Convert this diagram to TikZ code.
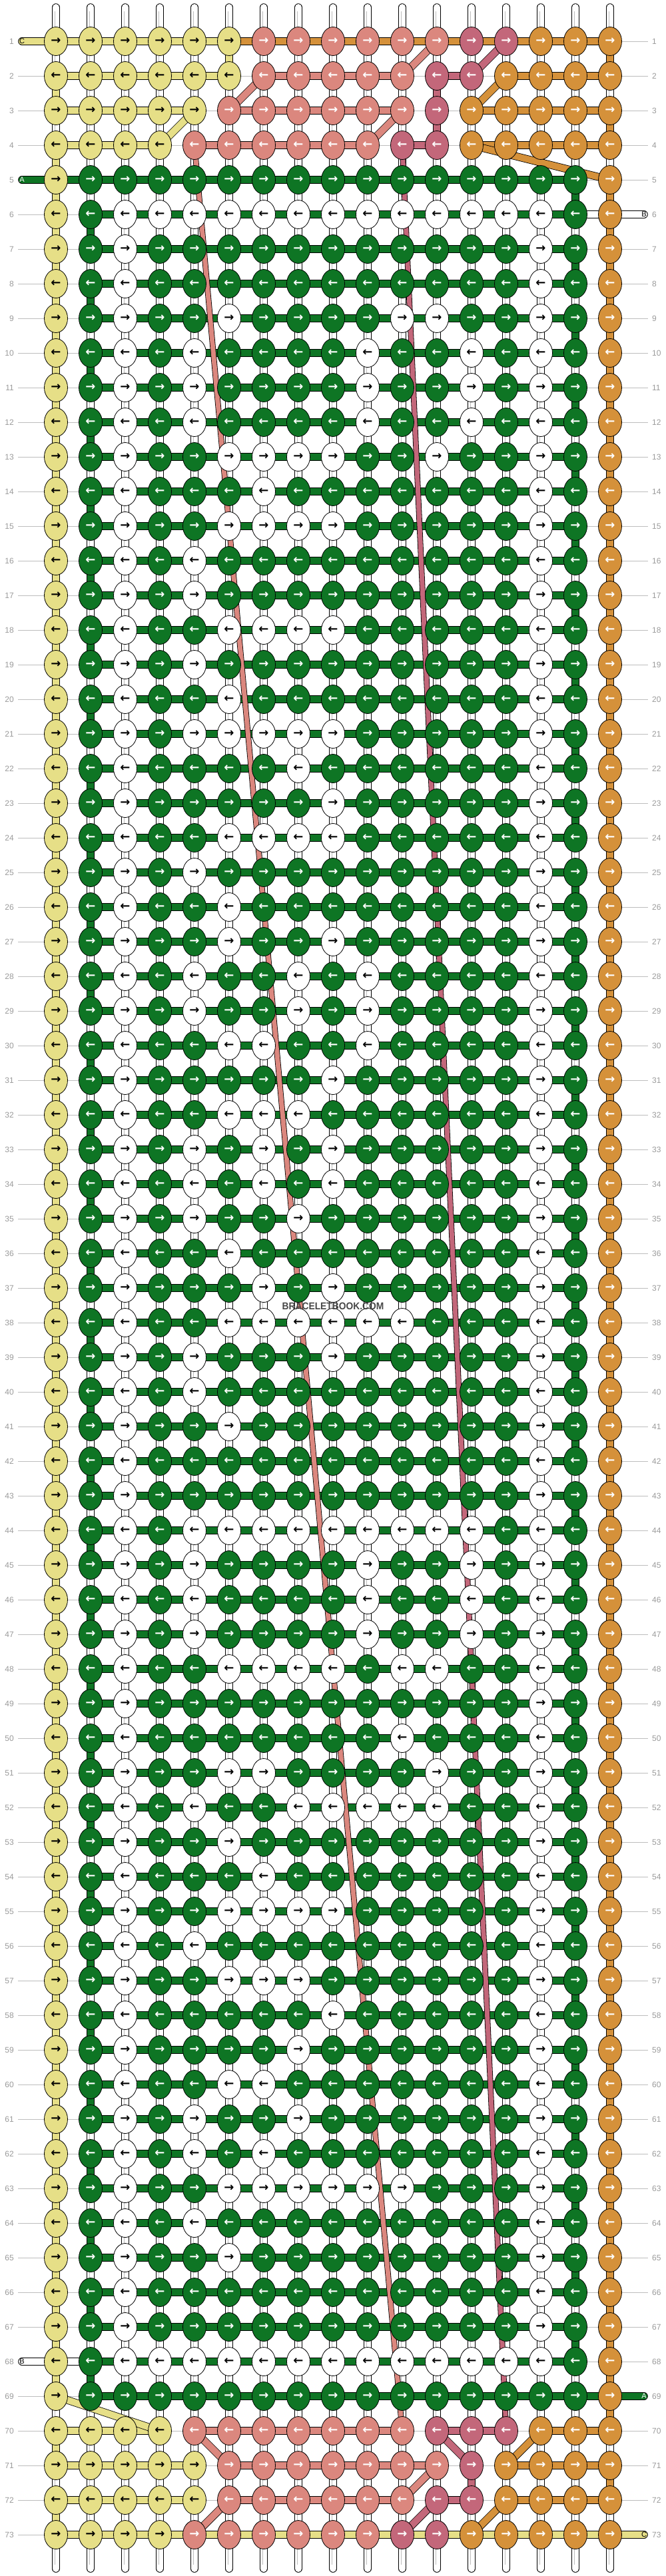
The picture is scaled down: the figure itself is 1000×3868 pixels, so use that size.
\documentclass[tikz,border=0pt]{standalone}
\usepackage{fontspec}
\setmainfont{Liberation Sans}
\newfontfamily\arrfont{DejaVu Sans}
\usetikzlibrary{shapes.geometric}

\definecolor{cy}{HTML}{E6DF87}
\definecolor{cs}{HTML}{DB877E}
\definecolor{cp}{HTML}{C3677A}
\definecolor{co}{HTML}{D5913A}
\definecolor{cg}{HTML}{0E7524}
\definecolor{guidegray}{HTML}{BDBDBD}
\definecolor{labgray}{HTML}{9A9A9A}

\pgfdeclarelayer{guide}
\pgfdeclarelayer{seg}
\pgfdeclarelayer{diag}
\pgfsetlayers{guide,seg,diag,main}

\begin{document}
\begin{tikzpicture}[
  x=1pt, y=-1pt,
  knot/.style={ellipse,draw=black,line width=0.8pt,minimum width=35pt,minimum height=43pt,inner sep=0pt,
    font=\arrfont\bfseries\fontsize{18}{18}\selectfont},
  ky/.style={knot,fill=cy,text=black},
  ks/.style={knot,fill=cs,text=white},
  kp/.style={knot,fill=cp,text=white},
  ko/.style={knot,fill=co,text=white},
  kg/.style={knot,fill=cg,text=white},
  kw/.style={knot,fill=white,text=black},
  band/.style={draw=black,line width=0.8pt,double=#1,double distance=10pt},
  thin band/.style={draw=black,line width=0.8pt,double=#1,double distance=7pt},
  gy/.style={band=cy}, gs/.style={band=cs}, gp/.style={band=cp}, go/.style={band=co}, gn/.style={},
  tail/.style={band=#1,line cap=round},
  tailtext/.style={font=\fontsize{11}{11}\selectfont,inner sep=0pt},
  tube/.style={draw=black,line width=0.8pt,double=white,double distance=10pt,line cap=round},
  tube core/.style={draw=guidegray,line width=0.5pt,double=white,double distance=3pt},
  guide/.style={draw=guidegray,line width=0.8pt},
  rowlab/.style={text=labgray,font=\fontsize{12}{12}\selectfont,inner sep=0pt}
]

\def\knotarrow#1{\ifodd#1\relax →\else ←\fi}

\useasboundingbox (0,0) rectangle (1000,3868);

% end rows
\foreach \rw/\cols in {
  1/{y,y,y,y,y,y,s,s,s,s,s,s,p,p,o,o,o},
  2/{y,y,y,y,y,y,s,s,s,s,s,p,p,o,o,o,o},
  3/{y,y,y,y,y,s,s,s,s,s,s,p,o,o,o,o,o},
  4/{y,y,y,y,s,s,s,s,s,s,p,p,o,o,o,o,o},
  70/{y,y,y,y,s,s,s,s,s,s,s,p,p,p,o,o,o},
  71/{y,y,y,y,y,s,s,s,s,s,s,s,p,o,o,o,o},
  72/{y,y,y,y,y,s,s,s,s,s,s,p,p,o,o,o,o},
  73/{y,y,y,y,s,s,s,s,s,s,p,p,o,o,o,o,o}}
  \foreach \cl [count=\ci] in \cols
    \node[k\cl] (k\rw-\ci) at (32+52*\ci, 10+52*\rw) {\knotarrow\rw};

% green field
\foreach \rw/\cols in {
  5/{g,g,g,g,g,g,g,g,g,g,g,g,g},
  6/{w,w,w,w,w,w,w,w,w,w,w,w,w},
  7/{w,g,g,g,g,g,g,g,g,g,g,g,w},
  8/{w,g,g,g,g,g,g,g,g,g,g,g,w},
  9/{w,g,g,w,g,g,g,g,w,w,g,g,w},
  10/{w,g,w,g,g,g,g,w,g,g,w,g,w},
  11/{w,g,w,g,g,g,g,w,g,g,w,g,w},
  12/{w,g,w,g,g,g,g,w,g,g,w,g,w},
  13/{w,g,g,w,w,w,w,g,g,w,g,g,w},
  14/{w,g,g,g,w,g,g,g,g,g,g,g,w},
  15/{w,g,g,w,w,w,w,g,g,g,g,g,w},
  16/{w,g,w,g,g,g,g,g,g,g,g,g,w},
  17/{w,g,w,g,g,g,g,g,g,g,g,g,w},
  18/{w,g,g,w,w,w,w,g,g,g,g,g,w},
  19/{w,g,w,g,g,g,g,g,g,g,g,g,w},
  20/{w,g,g,w,g,g,g,g,g,g,g,g,w},
  21/{w,g,w,w,w,w,w,g,g,g,g,g,w},
  22/{w,g,g,g,g,w,g,g,g,g,g,g,w},
  23/{w,g,g,g,g,g,w,g,g,g,g,g,w},
  24/{w,g,g,w,w,w,w,g,g,g,g,g,w},
  25/{w,g,w,g,g,g,g,g,g,g,g,g,w},
  26/{w,g,g,w,g,g,g,g,g,g,g,g,w},
  27/{w,g,g,w,g,g,w,g,g,g,g,g,w},
  28/{w,g,w,g,g,w,g,w,g,g,g,g,w},
  29/{w,g,w,g,g,w,g,w,g,g,g,g,w},
  30/{w,g,g,w,w,g,g,w,g,g,g,g,w},
  31/{w,g,g,g,g,g,w,g,g,g,g,g,w},
  32/{w,g,g,w,w,w,g,g,g,g,g,g,w},
  33/{w,g,w,g,w,g,w,g,g,g,g,g,w},
  34/{w,g,w,g,w,g,w,g,g,g,g,g,w},
  35/{w,g,w,g,g,w,g,g,g,g,g,g,w},
  36/{w,g,g,w,g,g,g,g,g,g,g,g,w},
  37/{w,g,g,g,w,g,w,g,g,g,g,g,w},
  38/{w,g,g,w,w,w,w,w,w,g,g,g,w},
  39/{w,g,w,g,g,g,w,g,g,g,g,g,w},
  40/{w,g,w,g,g,g,g,g,g,g,g,g,w},
  41/{w,g,g,w,g,g,g,g,g,g,g,g,w},
  42/{w,g,g,g,g,g,g,g,g,g,g,g,w},
  43/{w,g,g,g,g,g,g,g,g,g,g,g,w},
  44/{w,g,w,w,w,w,w,w,w,w,w,g,w},
  45/{w,g,w,g,g,g,g,w,g,g,w,g,w},
  46/{w,g,w,g,g,g,g,w,g,g,w,g,w},
  47/{w,g,w,g,g,g,g,w,g,g,w,g,w},
  48/{w,g,g,w,w,w,w,g,w,w,g,g,w},
  49/{w,g,g,g,g,g,g,g,g,g,g,g,w},
  50/{w,g,g,g,g,g,g,g,w,g,g,g,w},
  51/{w,g,g,w,w,g,g,g,g,w,g,g,w},
  52/{w,g,w,g,g,w,w,w,w,w,g,g,w},
  53/{w,g,g,w,g,g,g,g,g,g,g,g,w},
  54/{w,g,g,g,w,g,g,g,g,g,g,g,w},
  55/{w,g,g,w,w,w,w,g,g,g,g,g,w},
  56/{w,g,w,g,g,g,g,g,g,g,g,g,w},
  57/{w,g,g,w,w,w,g,g,g,g,g,g,w},
  58/{w,g,g,g,g,g,w,g,g,g,g,g,w},
  59/{w,g,g,g,g,w,g,g,g,g,g,g,w},
  60/{w,g,g,w,w,g,g,g,g,g,g,g,w},
  61/{w,g,w,g,g,w,g,g,g,g,g,g,w},
  62/{w,g,w,g,w,g,g,g,g,g,g,g,w},
  63/{w,g,g,w,w,w,w,w,w,g,g,g,w},
  64/{w,g,w,g,g,g,g,g,g,g,g,g,w},
  65/{w,g,g,w,g,g,g,g,g,g,g,g,w},
  66/{w,g,g,g,g,g,g,g,g,g,g,g,w},
  67/{w,g,g,g,g,g,g,g,g,g,g,g,w},
  68/{w,w,w,w,w,w,w,w,w,w,w,w,w},
  69/{g,g,g,g,g,g,g,g,g,g,g,g,g}} {
  \node[ky] (k\rw-1) at (84, 10+52*\rw) {\knotarrow\rw};
  \node[kg] (k\rw-2) at (136, 10+52*\rw) {\knotarrow\rw};
  \foreach \cl [count=\ci from 3] in \cols
    \node[k\cl] (k\rw-\ci) at (32+52*\ci, 10+52*\rw) {\knotarrow\rw};
  \node[kg] (k\rw-16) at (864, 10+52*\rw) {\knotarrow\rw};
  \node[ko] (k\rw-17) at (916, 10+52*\rw) {\knotarrow\rw};
}

% row numbers
\foreach \rw in {1,...,73} {
  \node[rowlab,anchor=east] (ll\rw) at (21, 10+52*\rw) {\rw};
  \node[rowlab,anchor=west] (lr\rw) at (979, 10+52*\rw) {\rw};
}

\node[font=\bfseries\fontsize{15}{15}\selectfont,text=black!72,xscale=0.92,inner sep=0pt] (brand) at (500,1961) {BRACELETBOOK.COM};

\begin{pgfonlayer}{guide}
\foreach \rw in {1,...,73}
  \draw[guide] ([xshift=6pt]ll\rw.east) -- ([xshift=-6pt]lr\rw.west);
\foreach \ci in {1,...,17} {
  \coordinate (tt\ci) at (32+52*\ci, 11);
  \coordinate (tb\ci) at (32+52*\ci, 3857);
  \draw[tube] (tt\ci) -- (tb\ci);
  \draw[tube core] ([yshift=-6pt]tt\ci) -- ([yshift=6pt]tb\ci);
}
\end{pgfonlayer}

\begin{pgfonlayer}{seg}
% horizontal threads
\foreach \rw in {5,...,69}
  \foreach \ci in {2,...,15} {
    \pgfmathtruncatemacro\cj{\ci+1}
    \draw[band=cg] (k\rw-\ci.center) -- (k\rw-\cj.center);
  }
\draw[band=cg] (k5-1.center) -- (k5-2.center);
\draw[band=cg] (k69-16.center) -- (k69-17.center);
\draw[band=white] (k6-16.center) -- (k6-17.center);
\draw[band=white] (k68-1.center) -- (k68-2.center);
\foreach \rw/\gaps in {
  1/{y,y,y,y,y,o,o,o,o,o,o,o,o,o,o,o},
  2/{y,y,y,y,y,n,s,s,s,s,n,p,n,o,o,o},
  3/{y,y,y,y,n,s,s,s,s,s,n,n,o,o,o,o},
  4/{y,y,y,n,s,s,s,s,s,n,p,n,o,o,o,o},
  70/{y,y,y,n,s,s,s,s,s,s,n,p,p,n,o,o},
  71/{y,y,y,y,n,s,s,s,s,s,s,n,n,o,o,o},
  72/{y,y,y,y,n,s,s,s,s,s,n,p,n,o,o,o},
  73/{y,y,y,y,y,y,y,y,y,y,y,y,y,y,y,y}}
  \foreach \g [count=\ci] in \gaps {
    \pgfmathtruncatemacro\cj{\ci+1}
    \path[g\g] (k\rw-\ci.center) -- (k\rw-\cj.center);
  }

% vertical threads
\foreach \rw in {4,...,68} \draw[band=cy] (k\rw-1.center) -- (k\the\numexpr\rw+1\relax-1.center);
\foreach \rw in {5,...,69} \draw[band=co] (k\rw-17.center) -- (k\the\numexpr\rw+1\relax-17.center);
\foreach \rw in {6,8,...,68} \draw[band=cg] (k\rw-2.center) -- (k\the\numexpr\rw+1\relax-2.center);
\foreach \rw in {5,7,...,67} \draw[band=cg] (k\rw-16.center) -- (k\the\numexpr\rw+1\relax-16.center);
\foreach \cl/\rw/\cc in {1/2/cy,1/70/cy,1/72/cy,17/1/co,17/3/co,17/71/co,6/1/cy,12/2/cp,12/3/cp,13/71/cp}
  \draw[band=\cc] (k\rw-\cl.center) -- (k\the\numexpr\rw+1\relax-\cl.center);

% loose ends
\coordinate (tl1) at (33,62);
\coordinate (tl5) at (33,270);
\coordinate (tl68) at (33,3546);
\coordinate (tr6) at (967,322);
\coordinate (tr69) at (967,3598);
\coordinate (tr73) at (967,3806);
\draw[tail=cy] (k1-1.center) -- (tl1);
\draw[tail=cg] (k5-1.center) -- (tl5);
\draw[tail=white] (k68-1.center) -- (tl68);
\draw[tail=white] (k6-17.center) -- (tr6);
\draw[tail=cg] (k69-17.center) -- (tr69);
\draw[tail=cy] (k73-17.center) -- (tr73);
\end{pgfonlayer}

\node[tailtext] (nl1) at (tl1) {C};
\node[tailtext,text=white] (nl5) at (tl5) {A};
\node[tailtext] (nl68) at (tl68) {B};
\node[tailtext] (nr6) at (tr6) {B};
\node[tailtext,text=white] (nr69) at (tr69) {A};
\node[tailtext] (nr73) at (tr73) {C};

\begin{pgfonlayer}{diag}
\foreach \a/\b/\cc in {k3-5/k4-4/cy, k2-7/k3-6/cs, k1-12/k2-11/cs, k3-11/k4-10/cs,
    k1-14/k2-13/cp, k2-14/k3-13/co, k4-13/k5-17/co,
    k69-1/k70-4/cy, k70-5/k71-6/cs, k72-6/k73-5/cs, k70-12/k71-13/cp,
    k70-15/k71-14/co, k71-12/k72-11/cs, k72-12/k73-11/cp, k72-14/k73-13/co}
  \draw[band=\cc] (\a.center) -- (\b.center);
\draw[thin band=cs] (k4-5.center) -- (k70-11.center);
\draw[thin band=cp] (k4-11.center) -- (k70-14.center);
\end{pgfonlayer}

\end{tikzpicture}
\end{document}
